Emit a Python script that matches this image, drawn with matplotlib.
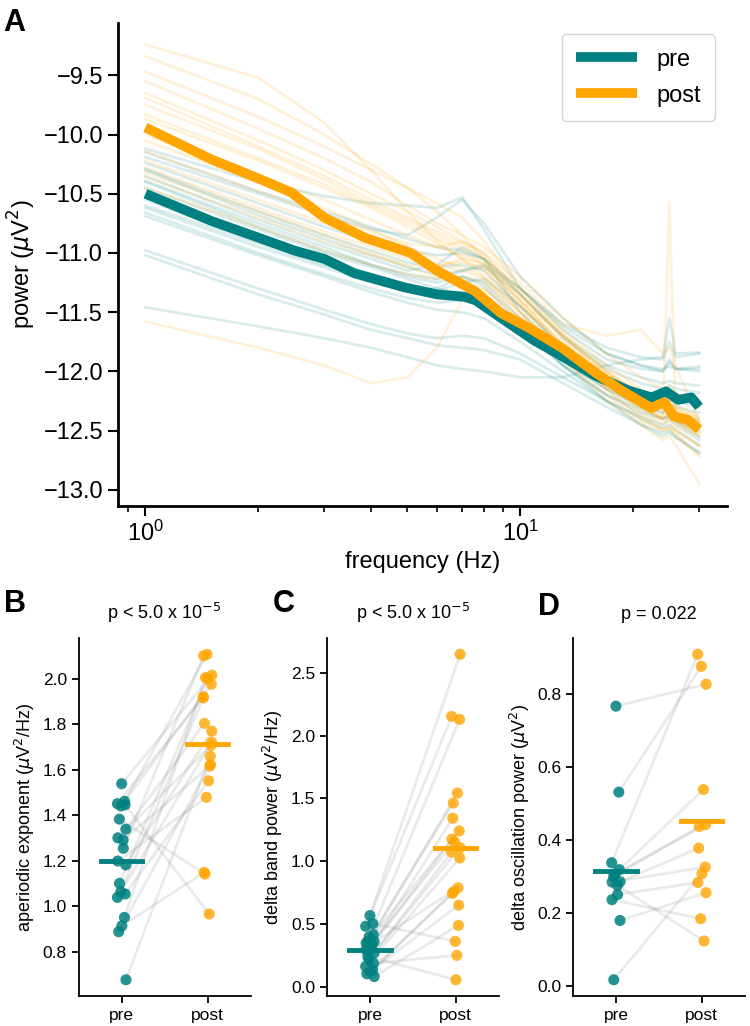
import numpy as np
import matplotlib
matplotlib.use("Agg")
from matplotlib import pyplot as plt

    #  Colours and fonts used for the whole figure

PRE_COLOR = "teal"
POST_COLOR = "orange"
plt.rcParams['font.family'] = ['Liberation Sans', 'DejaVu Sans']

    #  Panel A : mean spectra

pre_mean_freqs = [1, 1.5, 2, 2.5, 3, 3.6, 4.9, 6.0, 7.1, 7.6, 8.9, 10.9, 13.4, 15.7, 19.4, 22.4, 24.5, 26.4, 28.6, 30]
pre_mean_power = [-10.50, -10.73, -10.87, -10.98, -11.05, -11.17, -11.29, -11.35, -11.37, -11.40, -11.55,
                  -11.74, -11.90, -12.03, -12.16, -12.22, -12.17, -12.24, -12.22, -12.30]
post_mean_freqs = [1, 1.5, 2, 2.45, 3, 3.84, 5.1, 6.0, 7.55, 8.9, 10.5, 12.9, 15.7, 18.6, 22.4, 24.2, 25.7, 28, 30]
post_mean_power = [-9.94, -10.21, -10.37, -10.49, -10.70, -10.87, -11.00, -11.15, -11.32, -11.51, -11.63,
                   -11.80, -12.00, -12.16, -12.31, -12.26, -12.38, -12.41, -12.49]

    #  Panel A : single subject spectra (approximate)

subject_freqs = [1, 2, 3, 4, 5, 6, 7, 8, 10, 13, 17, 21, 24, 25, 26, 30]

pre_spectra = [
    [-10.12, -10.40, -10.52, -10.58, -10.60, -10.62, -10.53, -10.80, -11.30, -11.60, -11.80, -11.88, -11.90, -11.75, -11.88, -11.85],
    [-10.19, -10.50, -10.68, -10.80, -10.85, -10.70, -10.55, -10.75, -11.20, -11.55, -11.85, -11.95, -12.00, -11.90, -11.98, -11.98],
    [-10.24, -10.58, -10.78, -10.90, -10.98, -11.02, -11.00, -11.05, -11.35, -11.70, -11.95, -12.05, -12.10, -12.08, -12.10, -12.12],
    [-10.29, -10.65, -10.85, -10.98, -11.08, -11.12, -11.10, -11.15, -11.45, -11.80, -12.05, -12.18, -12.22, -12.20, -12.22, -12.25],
    [-10.35, -10.72, -10.92, -11.05, -11.15, -11.10, -10.95, -11.05, -11.50, -11.85, -12.10, -12.22, -12.28, -12.25, -12.30, -12.35],
    [-10.39, -10.75, -10.95, -11.10, -11.20, -11.25, -11.20, -11.25, -11.55, -11.90, -12.15, -12.30, -12.35, -12.30, -12.35, -12.42],
    [-10.45, -10.80, -11.00, -11.12, -11.22, -11.30, -11.35, -11.40, -11.60, -11.95, -12.20, -12.35, -12.40, -12.38, -12.42, -12.50],
    [-10.62, -10.95, -11.12, -11.25, -11.32, -11.30, -11.20, -11.28, -11.60, -11.92, -12.15, -12.28, -12.35, -12.30, -12.38, -12.45],
    [-10.66, -11.00, -11.18, -11.30, -11.38, -11.42, -11.40, -11.45, -11.65, -11.95, -12.20, -12.32, -12.40, -12.37, -12.42, -12.55],
    [-10.69, -11.02, -11.20, -11.33, -11.42, -11.48, -11.50, -11.55, -11.75, -12.00, -12.25, -12.40, -12.48, -12.45, -12.50, -12.62],
    [-10.98, -11.30, -11.48, -11.60, -11.68, -11.72, -11.70, -11.72, -11.85, -12.05, -12.25, -12.38, -12.45, -12.40, -12.45, -12.58],
    [-11.02, -11.35, -11.52, -11.65, -11.72, -11.78, -11.80, -11.82, -11.90, -12.10, -12.30, -12.45, -12.52, -12.50, -12.55, -12.68],
    [-11.46, -11.62, -11.72, -11.80, -11.88, -11.95, -11.98, -12.00, -12.05, -12.05, -11.95, -11.90, -11.88, -11.55, -11.85, -11.84],
    [-10.15, -10.48, -10.65, -10.78, -10.88, -10.95, -10.98, -11.05, -11.30, -11.62, -11.85, -11.95, -11.98, -11.96, -11.98, -12.00],
    [-10.30, -10.68, -10.88, -11.02, -11.12, -11.18, -11.15, -11.12, -11.35, -11.72, -11.98, -12.10, -12.15, -12.12, -12.15, -12.18],
    [-10.55, -10.90, -11.08, -11.20, -11.28, -11.32, -11.25, -11.22, -11.45, -11.80, -12.05, -12.18, -12.25, -12.20, -12.25, -12.30],
    [-10.60, -10.92, -11.10, -11.22, -11.30, -11.36, -11.40, -11.42, -11.60, -11.95, -12.25, -12.45, -12.55, -12.52, -12.56, -12.69],
    [-10.40, -10.78, -10.98, -11.10, -11.18, -11.22, -11.15, -11.10, -11.30, -11.65, -11.90, -11.98, -12.00, -11.92, -11.98, -11.96],
]

post_spectra = [
    [-9.24, -9.52, -9.90, -10.30, -10.65, -10.90, -11.05, -11.20, -11.45, -11.75, -12.05, -12.25, -12.32, -12.30, -12.35, -12.45],
    [-9.34, -9.70, -10.00, -10.25, -10.45, -10.65, -10.85, -11.05, -11.40, -11.70, -12.00, -12.20, -12.30, -12.28, -12.32, -12.40],
    [-9.47, -9.85, -10.10, -10.30, -10.45, -10.58, -10.70, -10.90, -11.30, -11.65, -11.95, -12.15, -12.25, -12.22, -12.28, -12.38],
    [-9.55, -9.95, -10.20, -10.40, -10.60, -10.75, -10.85, -10.95, -11.20, -11.55, -11.85, -12.05, -12.15, -12.12, -12.18, -12.30],
    [-9.65, -10.05, -10.30, -10.50, -10.65, -10.78, -10.90, -11.00, -11.25, -11.60, -11.70, -11.65, -11.85, -11.80, -11.95, -12.43],
    [-9.69, -10.10, -10.35, -10.55, -10.70, -10.82, -10.92, -11.02, -11.35, -11.70, -12.05, -12.30, -12.40, -10.57, -12.40, -12.52],
    [-9.75, -10.12, -10.38, -10.58, -10.72, -10.85, -10.95, -11.05, -11.30, -11.68, -12.00, -12.22, -12.32, -12.30, -12.35, -12.48],
    [-9.83, -10.20, -10.42, -10.60, -10.75, -10.88, -10.98, -11.10, -11.40, -11.78, -12.10, -12.35, -12.45, -12.42, -12.48, -12.63],
    [-9.87, -10.22, -10.45, -10.62, -10.78, -10.92, -11.05, -11.15, -11.45, -11.80, -12.15, -12.40, -12.50, -12.48, -12.52, -12.72],
    [-10.00, -10.35, -10.55, -10.72, -10.85, -10.95, -11.02, -11.10, -11.42, -11.80, -12.12, -12.32, -12.42, -12.40, -12.45, -12.55],
    [-10.05, -10.40, -10.62, -10.80, -10.95, -11.05, -11.12, -11.20, -11.50, -11.90, -12.25, -12.45, -12.58, -12.55, -12.62, -12.95],
    [-10.14, -10.48, -10.68, -10.82, -10.92, -10.95, -10.90, -11.00, -11.35, -11.72, -12.02, -12.22, -12.30, -12.28, -12.32, -12.43],
    [-10.22, -10.55, -10.75, -10.90, -11.02, -11.10, -11.15, -11.22, -11.50, -11.85, -12.15, -12.38, -12.48, -12.46, -12.50, -12.63],
    [-10.28, -10.62, -10.82, -10.95, -11.05, -11.10, -11.08, -11.12, -11.40, -11.78, -12.10, -12.30, -12.40, -12.38, -12.42, -12.52],
    [-10.32, -10.65, -10.85, -11.00, -11.12, -11.20, -11.25, -11.30, -11.55, -11.90, -12.20, -12.42, -12.50, -12.48, -12.55, -12.70],
    [-10.36, -10.70, -10.90, -11.02, -11.10, -11.12, -11.05, -11.08, -11.35, -11.70, -12.00, -12.18, -12.28, -12.25, -12.30, -12.40],
    [-10.45, -10.78, -10.98, -11.10, -11.18, -11.22, -11.20, -11.25, -11.50, -11.82, -12.10, -12.28, -12.38, -12.35, -12.40, -12.50],
    [-11.58, -11.80, -11.95, -12.10, -12.05, -11.80, -11.40, -11.30, -11.55, -11.85, -12.12, -12.30, -12.40, -12.38, -12.42, -12.55],
]

    #  Panels B, C, D : per subject values, pre and post in the same order (pairs)

conditions = ["pre", "post"]

exponent_pre = [1.538, 1.46, 1.45, 1.445, 1.44, 1.382, 1.338, 1.30, 1.29, 1.254,
                1.198, 1.181, 1.10, 1.063, 1.053, 1.038, 0.95, 0.913, 0.887, 0.676]
exponent_post = [2.015, 2.107, 1.92, 0.965, 1.975, 1.141, 1.803, 1.706, 1.615, 2.10,
                 1.478, 1.769, 2.00, 1.915, 1.551, 1.72, 2.004, 1.148, 1.622, 1.659]

delta_pre = [0.569, 0.505, 0.484, 0.418, 0.40, 0.364, 0.36, 0.351, 0.343, 0.324,
             0.298, 0.271, 0.245, 0.218, 0.191, 0.165, 0.138, 0.125, 0.106, 0.085]
delta_post = [2.646, 0.364, 2.152, 1.543, 2.128, 1.463, 1.343, 1.242, 0.79, 1.176,
              1.154, 1.109, 0.059, 1.074, 0.253, 1.027, 0.761, 0.745, 0.652, 0.492]

osc_pre = [0.766, 0.531, 0.338, 0.319, 0.308, 0.300, 0.286, 0.285, 0.276, 0.251, 0.237, 0.180, 0.018]
osc_post = [0.826, 0.875, 0.908, 0.538, 0.442, 0.437, 0.378, 0.326, 0.124, 0.284, 0.185, 0.256, 0.308]

panel_titles = ["p < 5.0 x 10$^{-5}$", "p < 5.0 x 10$^{-5}$", "p = 0.022"]
panel_ylabels = ["aperiodic exponent ($\\mu$V$^2$/Hz)",
                 "delta band power ($\\mu$V$^2$/Hz)",
                 "delta oscillation power ($\\mu$V$^2$)"]
panel_yticks = [[0.8, 1.0, 1.2, 1.4, 1.6, 1.8, 2.0],
                [0.0, 0.5, 1.0, 1.5, 2.0, 2.5],
                [0.0, 0.2, 0.4, 0.6, 0.8]]


def style_axis(ax, width=1.5):
    ax.spines['top'].set_visible(False)
    ax.spines['right'].set_visible(False)
    ax.spines['left'].set_linewidth(width)
    ax.spines['bottom'].set_linewidth(width)


fig = plt.figure(figsize=(7.5, 10.26), dpi=100)

    #  Panel A : power spectra

axA = fig.add_axes([0.157, 0.507, 0.812, 0.471])
for spec in pre_spectra:
    axA.plot(subject_freqs, spec, color=PRE_COLOR, alpha=0.15, lw=2)
for spec in post_spectra:
    axA.plot(subject_freqs, spec, color=POST_COLOR, alpha=0.15, lw=2)
axA.plot(pre_mean_freqs, pre_mean_power, color=PRE_COLOR, lw=7, label="pre", solid_capstyle='butt')
axA.plot(post_mean_freqs, post_mean_power, color=POST_COLOR, lw=7, label="post", solid_capstyle='butt')
axA.set_xscale('log')
axA.set_yticks([-9.5, -10.0, -10.5, -11.0, -11.5, -12.0, -12.5, -13.0])
axA.set_xlabel("frequency (Hz)", fontsize=17)
axA.set_ylabel("power ($\\mu$V$^2$)", fontsize=17)
axA.tick_params(axis='both', which='major', labelsize=17, length=7, width=1.5)
axA.tick_params(axis='x', which='minor', length=4, width=1.2)
style_axis(axA, 2)
leg = axA.legend(loc='upper right', fontsize=17, handlelength=2.6, handletextpad=0.8,
                 borderpad=0.6, labelspacing=0.6)
leg.get_frame().set_edgecolor('#cccccc')

    #  Panels B, C, D : paired dot plots

pre_sets = [exponent_pre, delta_pre, osc_pre]
post_sets = [exponent_post, delta_post, osc_post]
lefts = [0.105, 0.436, 0.764]

for k in range(3):
    ax = fig.add_axes([lefts[k], 0.0292, 0.229, 0.349])
    pre = np.array(pre_sets[k])
    post = np.array(post_sets[k])
    n = len(pre)
    x_pre = 0 + 0.05 * np.sin(np.arange(n) * 2.4)
    x_post = 1 + 0.05 * np.cos(np.arange(n) * 1.7)

    for i in range(n):
        ax.plot([x_pre[i], x_post[i]], [pre[i], post[i]], color='gray', alpha=0.16, lw=2, zorder=1)

    ax.scatter(x_pre, pre, s=64, color=PRE_COLOR, alpha=0.85, edgecolors='none', zorder=2)
    ax.scatter(x_post, post, s=64, color=POST_COLOR, alpha=0.8, edgecolors='none', zorder=2)
    ax.plot([-0.24, 0.24], [pre.mean(), pre.mean()], color=PRE_COLOR, lw=3.5, zorder=3)
    ax.plot([0.76, 1.24], [post.mean(), post.mean()], color=POST_COLOR, lw=3.5, zorder=3)

    ax.set_xlim(-0.5, 1.5)
    ax.set_xticks([0, 1])
    ax.set_xticklabels(conditions)
    ax.set_yticks(panel_yticks[k])
    ax.set_ylabel(panel_ylabels[k], fontsize=13)
    ax.set_title(panel_titles[k], fontsize=13, pad=14)
    ax.tick_params(axis='both', labelsize=12.5, length=5, width=1.3)
    style_axis(ax, 1.3)

    #  Panel letters

fig.text(0.004, 0.992, "A", fontsize=22, fontweight='bold', va='top')
fig.text(0.006, 0.426, "B", fontsize=22, fontweight='bold', va='top')
fig.text(0.364, 0.426, "C", fontsize=22, fontweight='bold', va='top')
fig.text(0.717, 0.423, "D", fontsize=22, fontweight='bold', va='top')

plt.savefig("out.png", dpi=100)
